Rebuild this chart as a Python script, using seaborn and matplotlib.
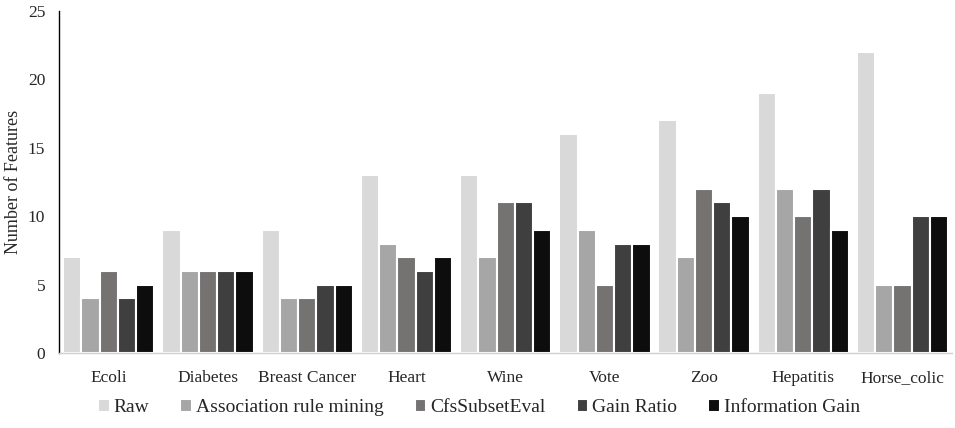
import pandas as pd
import matplotlib
matplotlib.use("Agg")
import matplotlib.pyplot as plt
import seaborn as sns

datasets = ["Ecoli", "Diabetes", "Breast Cancer", "Heart", "Wine", "Vote", "Zoo", "Hepatitis", "Horse_colic"]
methods = ["Raw", "Association rule mining", "CfsSubsetEval", "Gain Ratio", "Information Gain"]

raw = [7, 9, 9, 13, 13, 16, 17, 19, 22]
arm = [4, 6, 4, 8, 7, 9, 7, 12, 5]
cfs = [6, 6, 4, 7, 11, 5, 12, 10, 5]
gain_ratio = [4, 6, 5, 6, 11, 8, 11, 12, 10]
info_gain = [5, 6, 5, 7, 9, 8, 10, 9, 10]

colors = ["#d9d9d9", "#a6a6a6", "#767171", "#3f3f3f", "#0d0d0d"]

df = pd.DataFrame({
    "Dataset": datasets * 5,
    "Method": [m for m in methods for _ in datasets],
    "Features": raw + arm + cfs + gain_ratio + info_gain,
})

sns.set_style("white")
plt.rcParams["font.family"] = ["Liberation Serif", "DejaVu Serif"]

fig = plt.figure(figsize=(9.55, 4.28), dpi=100)
ax = fig.add_axes([0.062, 0.175, 0.935, 0.8])

sns.barplot(data=df, x="Dataset", y="Features", hue="Method", palette=colors,
            width=0.92, edgecolor="white", linewidth=1.5, ax=ax)

ax.set_ylim(0, 25)
ax.set_yticks([0, 5, 10, 15, 20, 25])
ax.set_xlim(-0.5, 8.5)
ax.set_xlabel("")
ax.set_ylabel("Number of Features", fontsize=13)
ax.tick_params(axis="both", labelsize=12.5, length=0)
ax.tick_params(axis="x", pad=12)
ax.tick_params(axis="y", pad=10)

for s in ["top", "right"]:
    ax.spines[s].set_visible(False)
ax.spines["left"].set_color("black")
ax.spines["left"].set_linewidth(1)
ax.spines["bottom"].set_color("#d0d0d0")
ax.spines["bottom"].set_linewidth(1)

handles, labels = ax.get_legend_handles_labels()
ax.legend(handles, labels, loc="center", bbox_to_anchor=(0.47, -0.16),
          ncol=5, frameon=False, fontsize=14, handlelength=0.6, handleheight=0.6,
          handletextpad=0.2, columnspacing=1.6)

fig.savefig("out.png", dpi=100)
